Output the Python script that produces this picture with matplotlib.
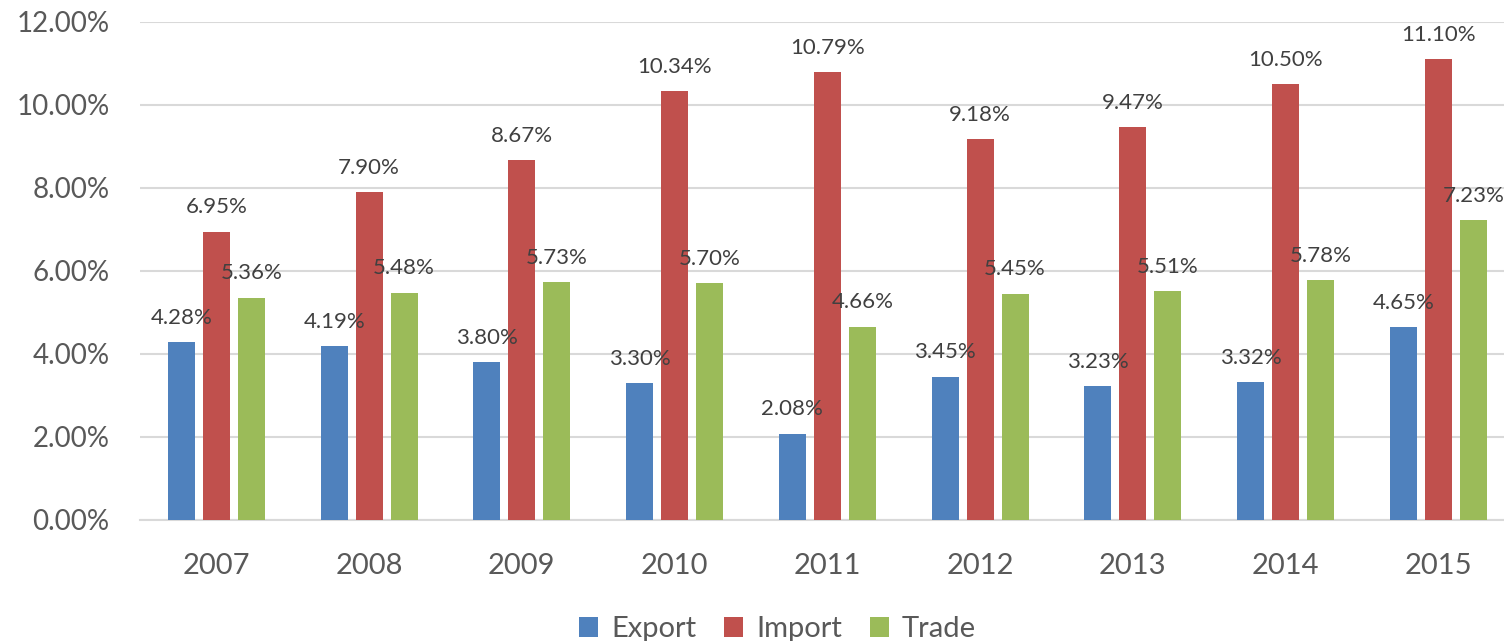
import numpy as np
import matplotlib
matplotlib.use("Agg")
import matplotlib.pyplot as plt
from matplotlib.ticker import FuncFormatter

years = ["2007", "2008", "2009", "2010", "2011", "2012", "2013", "2014", "2015"]
export = [4.28, 4.19, 3.80, 3.30, 2.08, 3.45, 3.23, 3.32, 4.65]
imports = [6.95, 7.90, 8.67, 10.34, 10.79, 9.18, 9.47, 10.50, 11.10]
trade = [5.36, 5.48, 5.73, 5.70, 4.66, 5.45, 5.51, 5.78, 7.23]

series = [("Export", export, "#4F81BD"),
          ("Import", imports, "#C0504D"),
          ("Trade", trade, "#9BBB59")]

plt.rcParams['font.family'] = ['Lato', 'DejaVu Sans']

fig = plt.figure(figsize=(15.04, 6.41), dpi=100)
ax = fig.add_axes([0.0931, 0.1888, 0.914, 0.777])

x = np.arange(len(years))
width = 0.177
step = 0.229
for i, (name, vals, col) in enumerate(series):
    pos = x + (i - 1) * step
    bars = ax.bar(pos, vals, width, color=col, label=name, zorder=3)
    for p, v in zip(pos, vals):
        ax.annotate(f"{v:.2f}%", (p, v), xytext=(0, 17.5), textcoords="offset points",
                    ha="center", va="center", fontsize=16, color="#404040", zorder=4)

ax.set_xlim(-0.5, len(years) - 0.5)
ax.set_ylim(0, 12)
ax.set_yticks(np.arange(0, 12.01, 2))
ax.yaxis.set_major_formatter(FuncFormatter(lambda v, _: f"{v:.2f}%"))
ax.set_xticks(x)
ax.set_xticklabels(years)
ax.grid(axis="y", color="#D9D9D9", linewidth=1.5, zorder=0)
for s in ["top", "right", "left"]:
    ax.spines[s].set_visible(False)
ax.spines["bottom"].set_color("#D9D9D9")
ax.spines["bottom"].set_linewidth(1.5)
ax.tick_params(axis="both", length=0, labelsize=20, labelcolor="#595959")
ax.tick_params(axis="x", labelsize=21, pad=24)
ax.tick_params(axis="y", pad=22)

fig.legend(loc="lower center", bbox_to_anchor=(0.517, -0.043), ncol=3, frameon=False,
           fontsize=21, labelcolor="#595959", handlelength=0.65, handleheight=0.65,
           handletextpad=0.45, columnspacing=0.95)

fig.savefig("out.png", dpi=100)
